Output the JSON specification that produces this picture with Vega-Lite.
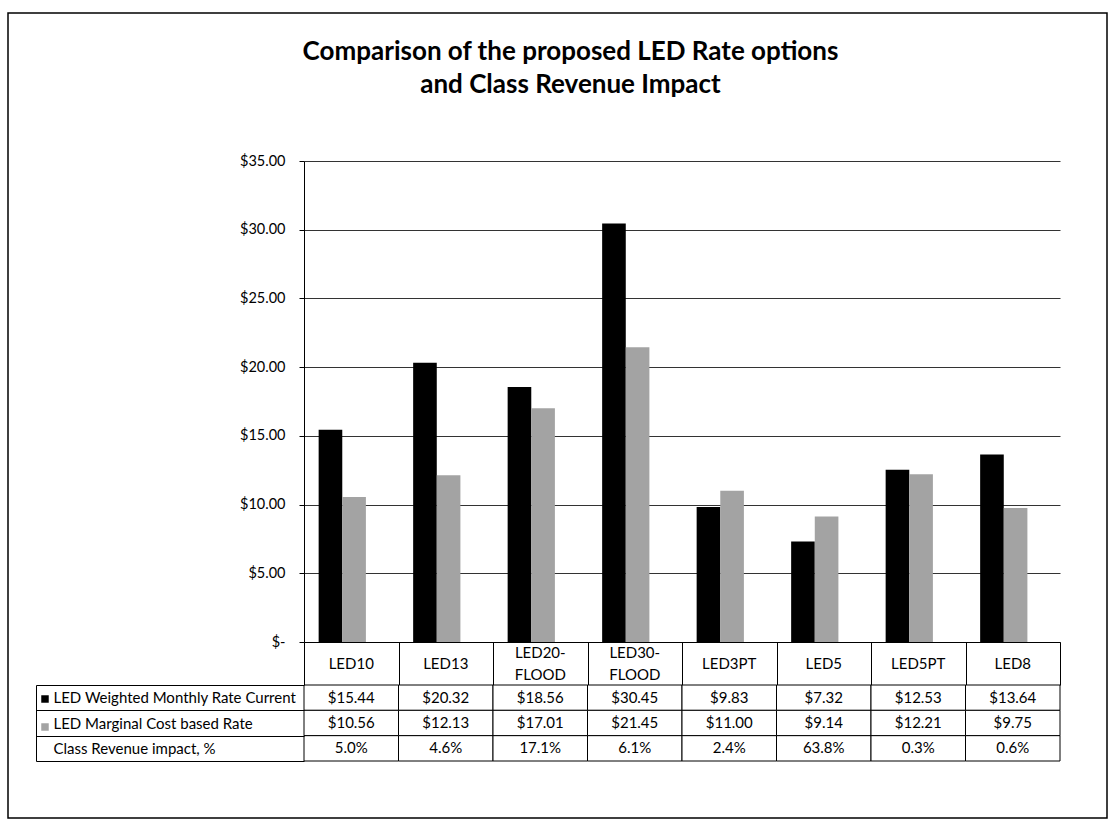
{
  "$schema": "https://vega.github.io/schema/vega-lite/v6.json",
  "width": 1112,
  "height": 826,
  "autosize": {"type": "fit", "contains": "padding"},
  "padding": {"left": 8, "top": 6, "right": 5, "bottom": 8},
  "background": "white",
  "title": {
    "text": ["Comparison of the proposed LED Rate options", "and Class Revenue Impact"],
    "font": "Lato",
    "fontSize": 26,
    "fontWeight": "bold",
    "color": "#000",
    "anchor": "middle",
    "frame": "group",
    "dx": 13,
    "offset": -92,
    "baseline": "top",
    "lineHeight": 33
  },
  "data": {
    "values": [
      {"option": "LED10", "current": 15.44, "marginal": 10.56, "impact": 0.050},
      {"option": "LED13", "current": 20.32, "marginal": 12.13, "impact": 0.046},
      {"option": "LED20-\nFLOOD", "current": 18.56, "marginal": 17.01, "impact": 0.171},
      {"option": "LED30-\nFLOOD", "current": 30.45, "marginal": 21.45, "impact": 0.061},
      {"option": "LED3PT", "current": 9.83, "marginal": 11.00, "impact": 0.024},
      {"option": "LED5", "current": 7.32, "marginal": 9.14, "impact": 0.638},
      {"option": "LED5PT", "current": 12.53, "marginal": 12.21, "impact": 0.003},
      {"option": "LED8", "current": 13.64, "marginal": 9.75, "impact": 0.006}
    ]
  },
  "layer": [
    {
      "layer": [
        {
          "transform": [{"fold": ["current", "marginal"], "as": ["series", "rate"]}],
          "mark": {"type": "bar"},
          "encoding": {
            "x": {
              "field": "option",
              "type": "nominal",
              "sort": null,
              "scale": {
                "domain": ["LED10", "LED13", "LED20-\nFLOOD", "LED30-\nFLOOD", "LED3PT", "LED5", "LED5PT", "LED8"],
                "range": [296, 1052],
                "paddingInner": 0,
                "paddingOuter": 0
              },
              "axis": {
                "title": null,
                "orient": "bottom",
                "offset": -176,
                "domain": true,
                "domainColor": "#000",
                "ticks": true,
                "tickBand": "extent",
                "tickSize": 43,
                "tickColor": "#000",
                "grid": false,
                "labels": false
              }
            },
            "xOffset": {
              "field": "series",
              "scale": {"domain": ["current", "marginal"], "paddingInner": 0, "paddingOuter": 1.35, "align": 0.31}
            },
            "y": {
              "field": "rate",
              "type": "quantitative",
              "scale": {"domain": [0, 35], "range": [629, 148], "nice": false},
              "axis": {
                "title": null,
                "orient": "left",
                "offset": -296,
                "values": [0, 5, 10, 15, 20, 25, 30, 35],
                "grid": true,
                "gridColor": "#333",
                "gridWidth": 1,
                "domain": true,
                "domainColor": "#000",
                "tickSize": 5,
                "tickColor": "#000",
                "labelPadding": 14,
                "labelFontSize": 14.5,
                "labelExpr": "datum.value === 0 ? '$-' : format(datum.value, '$.2f')"
              }
            },
            "color": {
              "field": "series",
              "type": "nominal",
              "scale": {"domain": ["current", "marginal"], "range": ["#000000", "#a3a3a3"]},
              "legend": {
                "orient": "none",
                "legendX": 32,
                "legendY": 681,
                "title": null,
                "direction": "vertical",
                "labelExpr": "''",
                "symbolType": "square",
                "symbolSize": 56,
                "symbolStrokeWidth": 0,
                "rowPadding": 18,
                "padding": 0
              }
            }
          }
        },
        {
          "transform": [{"filter": "indexof(datum.option, '\\n') < 0"}],
          "mark": {"type": "text", "baseline": "middle", "align": "center", "dy": 21.5, "fontSize": 15, "color": "#000"},
          "encoding": {
            "x": {"field": "option", "type": "nominal", "sort": null},
            "y": {"datum": 0, "type": "quantitative"},
            "text": {"field": "option"}
          }
        },
        {
          "transform": [{"filter": "indexof(datum.option, '\\n') >= 0"}],
          "mark": {"type": "text", "baseline": "middle", "align": "center", "dy": 11, "lineBreak": "\n", "lineHeight": 22, "fontSize": 15, "color": "#000"},
          "encoding": {
            "x": {"field": "option", "type": "nominal", "sort": null},
            "y": {"datum": 0, "type": "quantitative"},
            "text": {"field": "option"}
          }
        }
      ]
    },
    {
      "transform": [{"fold": ["current", "marginal", "impact"], "as": ["row", "val"]}],
      "encoding": {
        "x": {"field": "option", "type": "nominal", "sort": null},
        "y": {
          "field": "row",
          "type": "nominal",
          "sort": null,
          "scale": {"domain": ["current", "marginal", "impact"], "range": [672, 748], "paddingInner": 0, "paddingOuter": 0},
          "axis": {
            "title": null,
            "orient": "left",
            "offset": -28,
            "domain": true,
            "domainColor": "#000",
            "ticks": true,
            "tickBand": "extent",
            "tickSize": -268,
            "tickColor": "#000",
            "grid": false,
            "labelAlign": "left",
            "labelBaseline": "middle",
            "labelPadding": 251,
            "labelFontSize": 15,
            "labelLimit": 0,
            "labelExpr": "datum.value === 'current' ? 'LED Weighted Monthly Rate Current' : datum.value === 'marginal' ? 'LED Marginal Cost based Rate' : datum.value === 'impact' ? 'Class Revenue impact, %' : ''"
          }
        }
      },
      "layer": [
        {"mark": {"type": "rect", "fill": "white", "stroke": "#000", "strokeWidth": 1}},
        {
          "transform": [{"filter": "datum.row !== 'impact'"}],
          "mark": {"type": "text", "fontSize": 15, "color": "#000"},
          "encoding": {"text": {"field": "val", "type": "quantitative", "format": "$.2f"}}
        },
        {
          "transform": [{"filter": "datum.row === 'impact'"}],
          "mark": {"type": "text", "fontSize": 15, "color": "#000"},
          "encoding": {"text": {"field": "val", "type": "quantitative", "format": ".1%"}}
        }
      ]
    }
  ],
  "resolve": {"scale": {"y": "independent"}, "axis": {"y": "independent"}},
  "config": {
    "font": "Lato",
    "view": {"stroke": "#000", "strokeWidth": 1.5},
    "axis": {"labelColor": "#000", "labelFont": "Lato"},
    "text": {"font": "Lato"}
  }
}
